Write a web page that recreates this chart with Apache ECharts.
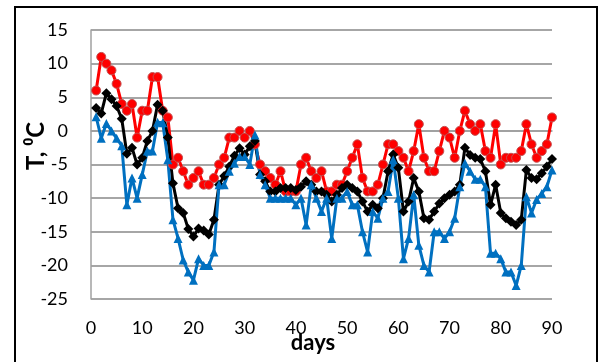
<!DOCTYPE html>
<html>
<head>
<meta charset="utf-8">
<script src="https://cdn.jsdelivr.net/npm/echarts@6/dist/echarts.min.js"></script>
<style>
  html, body { margin: 0; padding: 0; background: #fff; }
  #chart { width: 599px; height: 362px; }
</style>
</head>
<body>
<div id="chart"></div>
<script>
// days 1..90
const days = Array.from({ length: 90 }, (_, i) => i + 1)

// 最高温度
const tMax = [
  6, 11, 10, 9, 7, 4, 3, 4, -1, 3,
  3, 8, 8, 3, 2, -5, -4, -6, -8, -7,
  -6, -8, -8, -7, -5, -4, -1, -1, 0, -1,
  0, -2, -5, -6, -7, -8, -6, -9, -9, -9,
  -5, -4, -6, -7, -6, -9, -9, -8, -8, -6,
  -4, -2, -7, -9, -9, -8, -5, -2, -2, -3,
  -4, -6, -3, 1, -4, -6, -6, -3, 0, -1,
  -4, 0, 3, 1, 0, 1, -3, -4, 1, -5,
  -4, -4, -4, -3, 1, -2, -4, -3, -2, 2
]

// 平均温度
const tMean = [
  3.4, 2.6, 5.6, 4.7, 3.7, 1.8, -3.4, -2.5, -5, -4,
  -1.5, 0, 3.9, 3, -1, -7.8, -11.5, -12.2, -14.6, -15.7,
  -14.5, -14.8, -15.4, -13.2, -8, -6.7, -5.3, -3.7, -2.6, -3.5,
  -2.3, -1.5, -6.5, -7.5, -9, -9, -8.5, -8.5, -8.5, -8.8,
  -8.3, -7.5, -8, -9, -9, -9.5, -10.5, -9.5, -8.5, -8,
  -8.5, -9, -10.5, -12, -11, -11.5, -10, -6, -3.5, -5.5,
  -12, -10.5, -7, -9, -13, -13.2, -12, -10.8, -10, -9.5,
  -9, -8, -2.5, -3.6, -4, -4.2, -6, -11, -8, -12.2,
  -13, -13.5, -14, -13.2, -5.8, -7, -7.2, -6.3, -5.3, -4.2
]

// 最低温度
const tMin = [
  2.1, -1.1, 1.1, 0, -1.1, -2.2, -11, -7, -10, -6.5,
  -3, -3, 1.3, 1.2, -4.3, -13.2, -16, -19.2, -21, -22.2,
  -19, -20, -20, -18, -8, -8, -6, -4.8, -3.8, -3.8,
  -5, -0.6, -6.5, -8, -10, -10, -10, -10, -10, -11,
  -10, -14, -8, -10, -12, -10, -16, -10, -10, -9,
  -11, -11, -15, -18, -12, -13, -10, -9, -4.3, -10,
  -19, -16, -9.5, -17, -20, -21, -15, -15, -16, -15,
  -13, -8.3, -4.8, -6, -7.2, -7.2, -8.3, -18.2, -18.2, -19,
  -21, -21, -23, -20, -9.8, -12.2, -10.2, -9.3, -8.3, -5.8
]

const xTicks = [0, 10, 20, 30, 40, 50, 60, 70, 80, 90]
const yTicks = [-25, -20, -15, -10, -5, 0, 5, 10, 15]

const font = 'Lato, "Open Sans", sans-serif'
const pair = (arr) => days.map((d, i) => [d, arr[i]])

const lineSeries = (name, data, color, symbol, size, extra = {}) => ({
  name,
  type: 'line',
  data: pair(data),
  symbol,
  symbolSize: size,
  showSymbol: true,
  lineStyle: { color, width: 3 },
  itemStyle: { color },
  z: 3,
  ...extra
})

const chart = echarts.init(document.getElementById('chart'), null, { renderer: 'canvas' })

const option = {
  animation: false,
  grid: { left: 91, right: 47, top: 30, bottom: 63 },
  xAxis: {
    type: 'value',
    min: xTicks[0],
    max: xTicks[xTicks.length - 1],
    interval: 10,
    axisLine: { show: true, lineStyle: { color: '#a0a0a0', width: 1.5 } },
    axisTick: { show: false },
    splitLine: { show: false },
    axisLabel: { margin: 20, fontSize: 18, color: '#000', fontFamily: font }
  },
  yAxis: {
    type: 'value',
    min: yTicks[0],
    max: yTicks[yTicks.length - 1],
    interval: 5,
    axisLine: { show: true, onZero: false, lineStyle: { color: '#a0a0a0', width: 1.5 } },
    axisTick: { show: false },
    splitLine: { show: true, lineStyle: { color: '#888888', width: 1.6 } },
    axisLabel: { margin: 23, fontSize: 18, color: '#000', fontFamily: font }
  },
  series: [
    lineSeries('Tmax', tMax, '#ff0000', 'circle', 9, {
      itemStyle: { color: '#ff0000', borderColor: '#c24f4f', borderWidth: 1 }
    }),
    lineSeries('Tmean', tMean, '#000000', 'diamond', 10),
    lineSeries('Tmin', tMin, '#0070c0', 'triangle', 9)
  ],
  graphic: [
    {
      type: 'rect',
      shape: { x: 15, y: 7, width: 582, height: 420 },
      style: { fill: 'none', stroke: '#000', lineWidth: 2 },
      silent: true
    },
    {
      type: 'text',
      x: 36,
      y: 146,
      rotation: Math.PI / 2,
      style: {
        text: 'T, ⁰C',
        font: 'bold 24px ' + font,
        fill: '#000',
        align: 'center',
        verticalAlign: 'middle'
      }
    },
    {
      type: 'text',
      x: 313,
      y: 343,
      style: {
        text: 'days',
        font: 'bold 22px ' + font,
        fill: '#000',
        align: 'center',
        verticalAlign: 'middle'
      }
    }
  ]
}

chart.setOption(option)
</script>
</body>
</html>
